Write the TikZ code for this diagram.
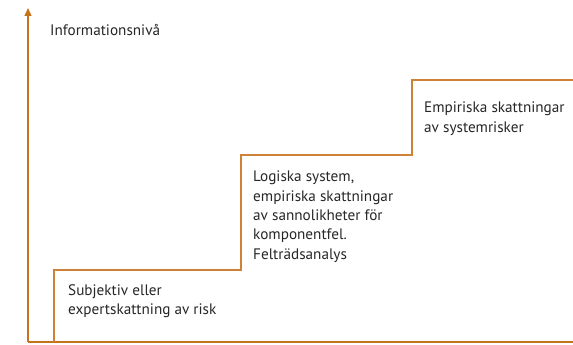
\documentclass[tikz,border=0pt]{standalone}
\usepackage{fontspec}
\setmainfont{PT Sans}
\usetikzlibrary{arrows.meta}
\definecolor{axisorange}{HTML}{C7731C}
\definecolor{steporange}{HTML}{CE8238}
\definecolor{labelgrey}{HTML}{262626}

\begin{document}
\begin{tikzpicture}[x=1pt, y=1pt,
  axis/.style={draw=axisorange, line width=1.3pt},
  stair/.style={draw=steporange, line width=1.3pt},
  lbl/.style={anchor=north west, inner sep=0pt, align=left, text=labelgrey,
    font=\fontsize{15.2}{19.3}\selectfont}]
\useasboundingbox (0,0) rectangle (573,345);

% AXES
\coordinate (O) at (28,3);
\coordinate (Ytop) at (28,337);
\coordinate (Xend) at (573,3);
\draw[axis, -{Triangle[length=8pt, width=7pt]}] (O) -- (Ytop);
\draw[axis] (O) -- (Xend);

% STAIRS
\coordinate (s0) at (54,3);
\coordinate (s1) at (54,75);
\coordinate (s2) at (241,75);
\coordinate (s3) at (241,190);
\coordinate (s4) at (412,190);
\coordinate (s5) at (412,265);
\coordinate (s6) at (573,265);
\draw[stair] (s0) -- (s1) -- (s2) -- (s3) -- (s4) -- (s5) -- (s6);

% LABELS
\node[lbl] (ylabel) at (50,321) {Informationsnivå};
\node[lbl] (level1) at (68,61) {Subjektiv eller\\expertskattning av risk};
\node[lbl] (level2) at (253,174) {Logiska system,\\empiriska skattningar\\av sannolikheter för\\komponentfel.\\Felträdsanalys};
\node[lbl] (level3) at (424,243) {Empiriska skattningar\\av systemrisker};
\end{tikzpicture}
\end{document}
